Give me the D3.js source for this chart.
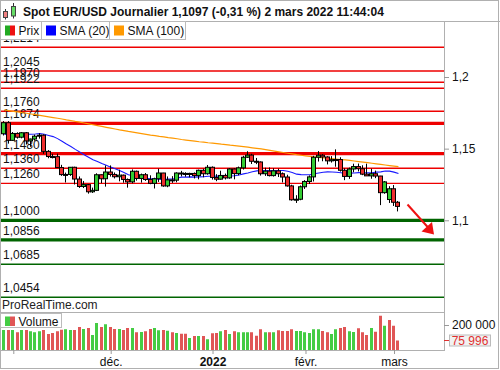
<!DOCTYPE html>
<html><head><meta charset="utf-8">
<script src="https://cdn.jsdelivr.net/npm/d3@7"></script>
<style>body{margin:0;background:#fff}svg{display:block;font-family:"Liberation Sans",Arial,sans-serif}</style>
</head><body><svg id="c" width="500" height="370"></svg>
<script>
// ---------- DATA ----------
const dates = [
"2021-10-28","2021-10-29",
"2021-11-01","2021-11-02","2021-11-03","2021-11-04","2021-11-05","2021-11-08","2021-11-09","2021-11-10","2021-11-11","2021-11-12",
"2021-11-15","2021-11-16","2021-11-17","2021-11-18","2021-11-19","2021-11-22","2021-11-23","2021-11-24","2021-11-25","2021-11-26",
"2021-11-29","2021-11-30",
"2021-12-01","2021-12-02","2021-12-03","2021-12-06","2021-12-07","2021-12-08","2021-12-09","2021-12-10","2021-12-13","2021-12-14",
"2021-12-15","2021-12-16","2021-12-17","2021-12-20","2021-12-21","2021-12-22","2021-12-23","2021-12-24","2021-12-27","2021-12-28",
"2021-12-29","2021-12-30","2021-12-31",
"2022-01-03","2022-01-04","2022-01-05","2022-01-06","2022-01-07","2022-01-10","2022-01-11","2022-01-12","2022-01-13","2022-01-14",
"2022-01-17","2022-01-18","2022-01-19","2022-01-20","2022-01-21","2022-01-24","2022-01-25","2022-01-26","2022-01-27","2022-01-28",
"2022-01-31",
"2022-02-01","2022-02-02","2022-02-03","2022-02-04","2022-02-07","2022-02-08","2022-02-09","2022-02-10","2022-02-11","2022-02-14",
"2022-02-15","2022-02-16","2022-02-17","2022-02-18","2022-02-21","2022-02-22","2022-02-23","2022-02-24","2022-02-25","2022-02-28",
"2022-03-01","2022-03-02"];

const open = [1.1604,1.1681,
1.1558,1.1606,1.1580,1.1611,1.1554,1.1567,1.1587,1.1594,1.1481,1.1445,
1.1444,1.1368,1.1319,1.1320,1.1370,1.1288,1.1236,1.1249,1.1199,1.1209,
1.1318,1.1290,
1.1337,1.1320,1.1304,1.1315,1.1285,1.1268,1.1342,1.1292,1.1318,1.1285,
1.1258,1.1290,1.1330,1.1240,1.1282,1.1280,1.1330,1.1327,1.1320,1.1327,
1.1312,1.1349,1.1325,
1.1370,1.1299,1.1287,1.1313,1.1296,1.1358,1.1326,1.1366,1.1440,1.1455,
1.1412,1.1407,1.1325,1.1343,1.1312,1.1345,1.1325,1.1302,1.1240,1.1143,
1.1147,
1.1234,1.1271,1.1303,1.1440,1.1454,1.1442,1.1415,1.1423,1.1424,1.1349,
1.1306,1.1358,1.1375,1.1360,1.1322,1.1310,1.1325,1.1309,1.1193,1.1145,
1.1220,1.1126];
const high = [1.1692,1.1692,
1.1616,1.1614,1.1616,1.1616,1.1570,1.1598,1.1608,1.1600,1.1490,1.1464,
1.1465,1.1387,1.1333,1.1372,1.1374,1.1306,1.1274,1.1253,1.1228,1.1328,
1.1320,1.1383,
1.1383,1.1334,1.1353,1.1319,1.1292,1.1355,1.1347,1.1326,1.1330,1.1314,
1.1297,1.1360,1.1331,1.1306,1.1308,1.1335,1.1345,1.1335,1.1332,1.1334,
1.1354,1.1360,1.1386,
1.1376,1.1322,1.1346,1.1326,1.1364,1.1363,1.1375,1.1450,1.1482,1.1464,
1.1435,1.1411,1.1367,1.1369,1.1363,1.1360,1.1334,1.1318,1.1248,1.1175,
1.1243,
1.1280,1.1313,1.1450,1.1483,1.1462,1.1447,1.1448,1.1495,1.1440,1.1362,
1.1368,1.1395,1.1396,1.1384,1.1395,1.1360,1.1347,1.1310,1.1274,1.1238,
1.1246,1.1135];
const low = [1.1592,1.1535,
1.1555,1.1570,1.1572,1.1529,1.1513,1.1556,1.1570,1.1464,1.1433,1.1432,
1.1367,1.1310,1.1264,1.1310,1.1250,1.1226,1.1225,1.1186,1.1191,1.1204,
1.1259,1.1235,
1.1305,1.1292,1.1272,1.1262,1.1228,1.1258,1.1277,1.1263,1.1275,1.1252,
1.1222,1.1268,1.1234,1.1231,1.1261,1.1265,1.1306,1.1304,1.1300,1.1292,
1.1286,1.1300,1.1318,
1.1284,1.1273,1.1284,1.1285,1.1290,1.1286,1.1314,1.1354,1.1435,1.1393,
1.1392,1.1312,1.1310,1.1306,1.1305,1.1302,1.1264,1.1235,1.1137,1.1121,
1.1140,
1.1219,1.1253,1.1271,1.1410,1.1412,1.1390,1.1403,1.1374,1.1340,1.1280,
1.1289,1.1335,1.1341,1.1315,1.1310,1.1290,1.1294,1.1106,1.1185,1.1121,
1.1100,1.1062];
const close = [1.1681,1.1558,
1.1606,1.1580,1.1611,1.1554,1.1567,1.1587,1.1594,1.1481,1.1445,1.1444,
1.1368,1.1319,1.1320,1.1370,1.1288,1.1236,1.1249,1.1199,1.1209,1.1318,
1.1290,1.1337,
1.1320,1.1304,1.1315,1.1285,1.1268,1.1342,1.1292,1.1318,1.1285,1.1258,
1.1290,1.1330,1.1240,1.1282,1.1280,1.1330,1.1327,1.1320,1.1327,1.1312,
1.1349,1.1325,1.1370,
1.1299,1.1287,1.1313,1.1296,1.1358,1.1326,1.1366,1.1440,1.1455,1.1412,
1.1407,1.1325,1.1343,1.1312,1.1345,1.1325,1.1302,1.1240,1.1143,1.1147,
1.1234,
1.1271,1.1303,1.1440,1.1454,1.1442,1.1415,1.1423,1.1424,1.1349,1.1306,
1.1358,1.1375,1.1360,1.1322,1.1310,1.1325,1.1309,1.1193,1.1268,1.1220,
1.1126,1.1097];
const closeBefore = 1.1604;

const sma20 = [1.1600,1.1598,
1.1598,1.1597,1.1601,1.1601,1.1601,1.1602,1.1606,1.1600,1.1592,1.1584,
1.1570,1.1552,1.1532,1.1515,1.1495,1.1476,1.1458,1.1440,1.1422,1.1410,
1.1396,1.1384,
1.1371,1.1360,1.1348,1.1334,1.1318,1.1311,1.1304,1.1297,1.1293,1.1290,
1.1289,1.1287,1.1284,1.1287,1.1288,1.1295,1.1301,1.1301,1.1303,1.1301,
1.1303,1.1304,1.1307,
1.1307,1.1308,1.1307,1.1307,1.1309,1.1311,1.1316,1.1324,1.1330,1.1339,
1.1345,1.1347,1.1348,1.1347,1.1348,1.1348,1.1348,1.1342,1.1333,1.1322,
1.1319,
1.1318,1.1318,1.1325,1.1330,1.1335,1.1338,1.1337,1.1335,1.1332,1.1327,
1.1329,1.1330,1.1333,1.1332,1.1331,1.1332,1.1336,1.1338,1.1344,1.1343,
1.1336,1.1326];

const sma100 = [1.1770,1.1765,
1.1760,1.1756,1.1751,1.1747,1.1742,1.1737,1.1732,1.1727,1.1722,1.1717,
1.1712,1.1707,1.1701,1.1696,1.1690,1.1685,1.1679,1.1673,1.1667,1.1661,
1.1655,1.1649,
1.1643,1.1637,1.1631,1.1626,1.1620,1.1615,1.1610,1.1605,1.1600,1.1595,
1.1591,1.1586,1.1582,1.1577,1.1573,1.1569,1.1564,1.1560,1.1556,1.1552,
1.1548,1.1545,1.1541,
1.1538,1.1535,1.1531,1.1528,1.1524,1.1521,1.1518,1.1514,1.1510,1.1506,
1.1502,1.1498,1.1493,1.1488,1.1483,1.1478,1.1473,1.1468,1.1463,1.1458,
1.1454,
1.1450,1.1446,1.1442,1.1439,1.1436,1.1433,1.1430,1.1427,1.1424,1.1421,
1.1418,1.1414,1.1410,1.1406,1.1402,1.1398,1.1394,1.1390,1.1386,1.1382,
1.1378,1.1374];

const volume = [160000,160000,
160000,142000,160000,160000,150000,142000,150000,160000,128000,136000,
150000,162000,166000,160000,160000,184000,168000,176000,120000,216000,
184000,206000,
184000,168000,168000,160000,176000,176000,142000,144000,150000,168000,
176000,158000,160000,154000,142000,136000,130000,130000,96000,112000,
112000,112000,86000,
134000,136000,150000,160000,128000,150000,142000,142000,142000,142000,
114000,166000,142000,142000,142000,158000,152000,152000,166000,152000,
152000,
142000,136000,166000,166000,152000,142000,128000,166000,176000,184000,
150000,144000,174000,142000,120000,176000,146000,274000,194000,240000,
194000,75996];
const lastVolume = 75996;

const levelLabels = ["1,2214","1,2045","1,1970","1,1922","1,1760","1,1674","1,1480","1,1360","1,1260","1,1000","1,0856","1,0685","1,0454"];
const levelValues = [1.2208,1.2042,1.1963,1.1921,1.1761,1.1677,1.1465,1.1363,1.1258,1.1000,1.0863,1.0693,1.0463];

const priceTicks = [1.1, 1.15, 1.2];
const volumeTicks = [200000];
const monthTickDates = ["2021-11-01","2021-12-01","2022-01-03","2022-02-01","2022-03-01"];
const monthTickLabels = ["", "déc.", "2022", "févr.", "mars"];

const titleText = "Spot EUR/USD Journalier 1,1097 (-0,31 %) 2 mars 2022 11:44:04";
const legendItems = ["Prix", "SMA (20)", "SMA (100)"];

// ---------- STYLE / LAYOUT ----------
const W = 500, H = 370;
const plotRight = 444, titleH = 21, volTop = 312, volBottom = 350;
const GREEN = "#33cc33", RED = "#ee2e2e";
const VGREEN = "#44cc44", VRED = "#e05656";
const thickLevels = new Set(["1,1674","1,1480","1,1000","1,0856"]);

const svg = d3.select("#c");
const x = d3.scalePoint().domain(dates).range([4.45, 4.45 + 89 * 4.427]);
const y = d3.scaleLinear().domain([1.1, 1.2]).range([220.3, 77]);
const vy = d3.scaleLinear().domain([0, 200000]).range([volBottom, 325]);
const idx = d3.range(dates.length);

svg.append("rect").attr("width", W).attr("height", H).attr("fill", "#fff");

const defs = svg.append("defs");
defs.append("clipPath").attr("id", "plotclip").append("rect")
  .attr("x", 0).attr("y", titleH).attr("width", plotRight).attr("height", volTop - titleH);
defs.append("clipPath").attr("id", "volclip").append("rect")
  .attr("x", 0).attr("y", volTop).attr("width", plotRight).attr("height", volBottom - volTop);

const plot = svg.append("g").attr("clip-path", "url(#plotclip)");

// levels
levelLabels.forEach((lab, i) => {
  const yy = y(levelValues[i]);
  const col = levelValues[i] > 1.11 ? "#ee0000" : "#006400";
  plot.append("line").attr("x1", 0).attr("x2", plotRight).attr("y1", yy).attr("y2", yy)
    .attr("stroke", col).attr("stroke-width", thickLevels.has(lab) ? 3.2 : 1.4);
});
levelLabels.forEach((lab, i) => {
  const yy = y(levelValues[i]);
  plot.append("text").attr("x", 3).attr("y", yy - 5).attr("font-size", 12).attr("fill", "#111").text(lab);
});

// SMA lines
const line = arr => d3.line().x((d, i) => x(dates[i])).y(d => y(d))(arr);
plot.append("path").attr("d", line(sma100)).attr("fill", "none").attr("stroke", "#ff9900").attr("stroke-width", 1.2);
plot.append("path").attr("d", line(sma20)).attr("fill", "none").attr("stroke", "#1a1aff").attr("stroke-width", 1.1);

// candles
const cg = plot.append("g");
idx.forEach(i => {
  const r = Math.round(x(dates[i]));
  cg.append("line").attr("x1", r - 0.5).attr("x2", r - 0.5)
    .attr("y1", y(high[i])).attr("y2", y(low[i])).attr("stroke", "#000").attr("stroke-width", 1);
  const yo = y(open[i]), yc = y(close[i]);
  const top = Math.min(yo, yc), h = Math.max(Math.abs(yo - yc), 1);
  cg.append("rect").attr("x", r - 2.5).attr("y", top).attr("width", 4).attr("height", h)
    .attr("fill", close[i] >= open[i] ? GREEN : RED).attr("stroke", "#000").attr("stroke-width", 1);
});

// red arrow
const ax1 = 407.5, ay1 = 204.5, ax2 = 434, ay2 = 234.5;
plot.append("line").attr("x1", ax1).attr("y1", ay1).attr("x2", ax2 - 5).attr("y2", ay2 - 6)
  .attr("stroke", "#ee1111").attr("stroke-width", 2);
plot.append("path").attr("d", `M${ax2},${ay2} L${ax2 - 12.5},${ay2 - 3} L${ax2 - 2},${ay2 - 12.5} Z`).attr("fill", "#ee1111");

// volume
const vg = svg.append("g").attr("clip-path", "url(#volclip)");
idx.forEach(i => {
  const r = Math.round(x(dates[i]));
  const prev = i === 0 ? closeBefore : close[i - 1];
  vg.append("rect").attr("x", r - 2).attr("y", vy(volume[i])).attr("width", 3)
    .attr("height", volBottom - vy(volume[i])).attr("fill", close[i] >= prev ? VGREEN : VRED);
});

// frames
svg.append("line").attr("x1", 0).attr("x2", plotRight).attr("y1", volTop + 0.5).attr("y2", volTop + 0.5).attr("stroke", "#b0b0b0");
svg.append("line").attr("x1", 0).attr("x2", plotRight).attr("y1", volBottom + 0.5).attr("y2", volBottom + 0.5).attr("stroke", "#b0b0b0");
svg.append("line").attr("x1", plotRight + 0.5).attr("x2", plotRight + 0.5).attr("y1", titleH).attr("y2", volBottom + 1).attr("stroke", "#b0b0b0");
svg.append("line").attr("x1", 0).attr("x2", W).attr("y1", titleH + 0.5).attr("y2", titleH + 0.5).attr("stroke", "#b0b0b0");
svg.append("rect").attr("x", 0.5).attr("y", 0.5).attr("width", 498).attr("height", 368).attr("fill", "none").attr("stroke", "#b0b0b0");

// ProRealTime label
svg.append("text").attr("x", 2).attr("y", 309).attr("font-size", 12).attr("fill", "#222").text("ProRealTime.com");

// right price axis
const pa = svg.append("g").attr("transform", `translate(${plotRight},0)`)
  .call(d3.axisRight(y).tickValues(priceTicks).tickSize(5).tickPadding(3)
    .tickFormat(d => String(d).replace(".", ",")));
pa.select(".domain").remove();
pa.selectAll("text").attr("font-size", 12).attr("fill", "#111").attr("font-family", "Liberation Sans, Arial, sans-serif");
pa.selectAll("line").attr("stroke", "#999");

// right volume axis
const va = svg.append("g").attr("transform", `translate(${plotRight},0)`)
  .call(d3.axisRight(vy).tickValues(volumeTicks).tickSize(5).tickPadding(3)
    .tickFormat(d => d3.format(",")(d).replace(/,/g, " ")));
va.select(".domain").remove();
va.selectAll("text").attr("font-size", 12).attr("fill", "#111").attr("font-family", "Liberation Sans, Arial, sans-serif");
va.selectAll("line").attr("stroke", "#999");

// last volume marker
const lvY = vy(lastVolume);
svg.append("line").attr("x1", plotRight).attr("x2", plotRight + 5).attr("y1", lvY).attr("y2", lvY).attr("stroke", "#e03030");
svg.append("rect").attr("x", 449.5).attr("y", lvY - 5.5).attr("width", 41).attr("height", 11)
  .attr("fill", "#f2f2f2").attr("stroke", "#bbb");
svg.append("text").attr("x", 470).attr("y", lvY + 4.2).attr("text-anchor", "middle").attr("font-size", 12)
  .attr("fill", "#e03030").text(d3.format(",")(lastVolume).replace(/,/g, " "));

// x axis
const xa = svg.append("g").attr("transform", `translate(0,${volBottom})`)
  .call(d3.axisBottom(x).tickValues(monthTickDates).tickSize(4).tickPadding(3)
    .tickFormat((d, i) => monthTickLabels[i]));
xa.select(".domain").remove();
xa.selectAll("line").attr("stroke", "#999");
xa.selectAll("text").attr("font-size", 12).attr("fill", "#111").attr("font-family", "Liberation Sans, Arial, sans-serif")
  .attr("font-weight", (d, i) => monthTickLabels[i] === "2022" ? "bold" : "normal");

// price legend
const legX = [0.5, 41.5, 109.5], legW = [41, 68, 76];
const lg = svg.append("g");
legendItems.forEach((t, i) => {
  lg.append("rect").attr("x", legX[i]).attr("y", 21.5).attr("width", legW[i]).attr("height", 18)
    .attr("fill", "#fff").attr("stroke", "#bbb");
  const sx = legX[i] + 4.5;
  if (i === 0) {
    lg.append("rect").attr("x", sx).attr("y", 25.5).attr("width", 5).attr("height", 10).attr("fill", "#22aa22");
    lg.append("rect").attr("x", sx + 5).attr("y", 25.5).attr("width", 5).attr("height", 10).attr("fill", "#ee1111");
  } else {
    lg.append("rect").attr("x", sx).attr("y", 25.5).attr("width", 10).attr("height", 10)
      .attr("fill", i === 1 ? "#0000ff" : "#ff9900");
  }
  lg.append("text").attr("x", sx + 13.5).attr("y", 35).attr("font-size", 12).attr("fill", "#111").text(t);
});

// volume legend
svg.append("rect").attr("x", 0.5).attr("y", 313.5).attr("width", 61).attr("height", 14).attr("fill", "#fff").attr("stroke", "#bbb");
svg.append("rect").attr("x", 5).attr("y", 316.5).attr("width", 5).attr("height", 9.5).attr("fill", VGREEN);
svg.append("rect").attr("x", 10).attr("y", 316.5).attr("width", 5).attr("height", 9.5).attr("fill", VRED);
svg.append("text").attr("x", 18.5).attr("y", 325.5).attr("font-size", 12).attr("fill", "#111").text("Volume");

// title
const icon = svg.append("g");
icon.append("line").attr("x1", 5.5).attr("x2", 5.5).attr("y1", 9).attr("y2", 19.5).attr("stroke", "#333");
icon.append("rect").attr("x", 3.5).attr("y", 11.5).attr("width", 4).attr("height", 6).attr("fill", "#f08080").attr("stroke", "#444");
icon.append("line").attr("x1", 13.5).attr("x2", 13.5).attr("y1", 3).attr("y2", 18.5).attr("stroke", "#333");
icon.append("rect").attr("x", 11.5).attr("y", 6.5).attr("width", 4).attr("height", 9.5).attr("fill", "#66dd66").attr("stroke", "#444");
svg.append("text").attr("x", 23).attr("y", 16).attr("font-size", 12).attr("font-weight", "bold").attr("fill", "#111").text(titleText);
</script></body></html>
